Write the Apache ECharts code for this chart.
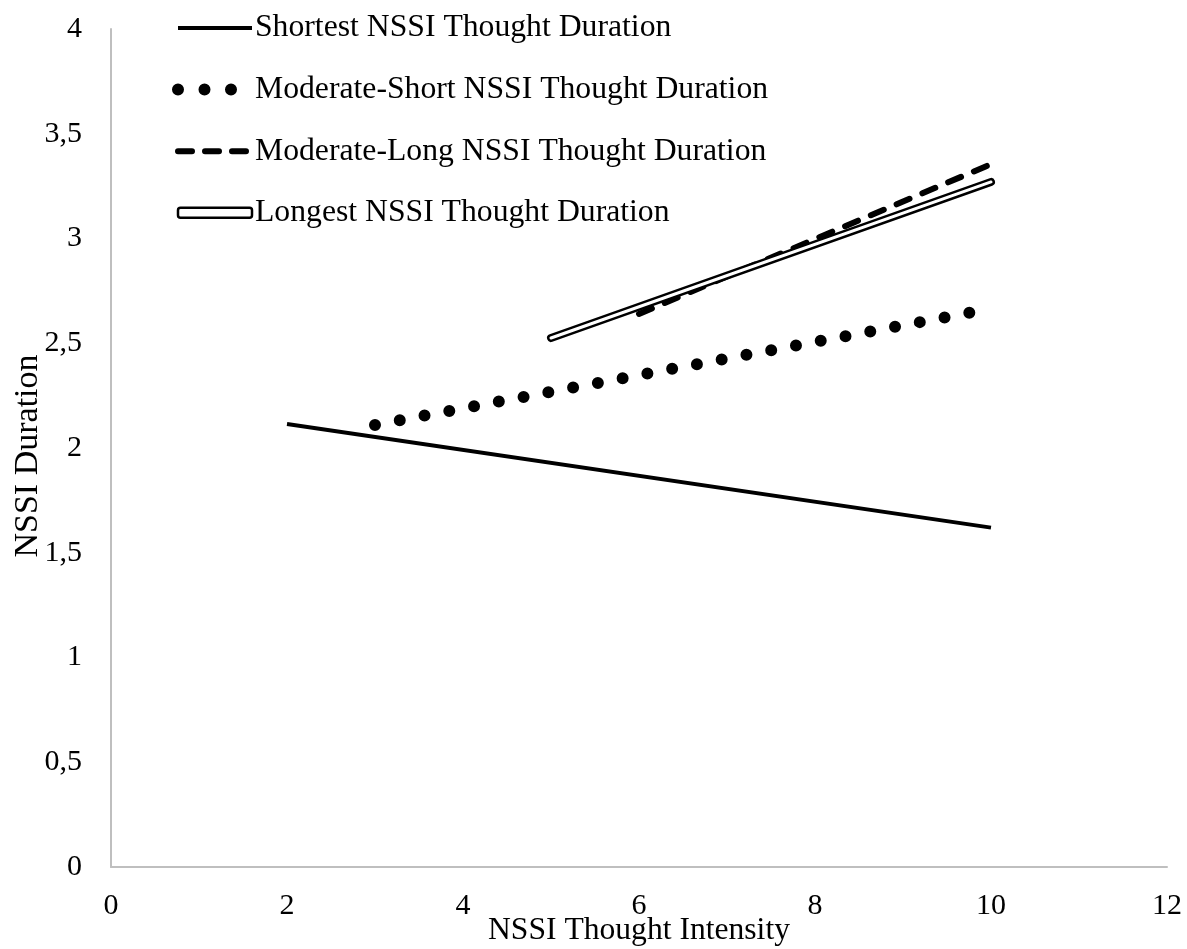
<!DOCTYPE html>
<html><head><meta charset="utf-8">
<script src="https://cdn.jsdelivr.net/npm/echarts@6/dist/echarts.min.js"></script>
<style>html,body{margin:0;padding:0;background:#fff}#c{width:1187px;height:949px}</style>
</head><body><div id="c"></div>
<script>
var seriesNames = ['Shortest NSSI Thought Duration','Moderate-Short NSSI Thought Duration','Moderate-Long NSSI Thought Duration','Longest NSSI Thought Duration'];
var shortest = [[2, 2.115], [10, 1.62]];
var moderateShort = [[3, 2.11], [10, 2.665]];
var moderateLong = [[6, 2.64], [10, 3.355]];
var longest = [[5, 2.525], [10, 3.27]];
var xTicks = [0, 2, 4, 6, 8, 10, 12];
var yTicks = [0, 0.5, 1, 1.5, 2, 2.5, 3, 3.5, 4];
var FONT = 'Liberation Serif';
var chart = echarts.init(document.getElementById('c'));
chart.setOption({
  animation: false,
  grid: {left: 111, right: 20, top: 29, bottom: 82, containLabel: false, outerBoundsMode: 'none'},
  legend: {
    orient: 'vertical', left: 172, top: 12, padding: 0, itemWidth: 74, itemHeight: 10, itemGap: 29.6,
    textStyle: {fontFamily: FONT, fontSize: 31.7, color: '#000', padding: [0,0,0,-2]},
    data: [
      {name: seriesNames[0], itemStyle: {opacity: 0}, lineStyle: {width: 4, type: 'solid', color: '#000'}},
      {name: seriesNames[1], itemStyle: {opacity: 0}, lineStyle: {width: 12, type: [0, 26.5], cap: 'round', color: '#000'}},
      {name: seriesNames[2], itemStyle: {opacity: 0}, lineStyle: {width: 6, type: [14, 13], cap: 'round', color: '#000'}},
      {name: seriesNames[3], icon: 'roundRect', itemStyle: {color: '#fff', borderColor: '#000', borderWidth: 2.5}}
    ]
  },
  xAxis: {
    type: 'value', min: xTicks[0], max: xTicks[xTicks.length-1], interval: 2,
    axisLine: {lineStyle: {color: '#bfbfbf', width: 2}}, axisTick: {show: false}, splitLine: {show: false},
    axisLabel: {fontFamily: FONT, fontSize: 30, color: '#000', margin: 24},
    name: 'NSSI Thought Intensity', nameLocation: 'middle', nameGap: 48, nameMoveOverlap: false,
    nameTextStyle: {fontFamily: FONT, fontSize: 31.6, color: '#000'}
  },
  yAxis: {
    type: 'value', min: yTicks[0], max: yTicks[yTicks.length-1], interval: 0.5,
    axisLine: {show: true, lineStyle: {color: '#bfbfbf', width: 2}}, axisTick: {show: false}, splitLine: {show: false},
    axisLabel: {fontFamily: FONT, fontSize: 30, color: '#000', margin: 29, formatter: function(v){return String(v).replace('.', ',');}},
    name: 'NSSI Duration', nameLocation: 'middle', nameGap: 66, nameMoveOverlap: false,
    nameTextStyle: {fontFamily: FONT, fontSize: 34, color: '#000', padding: [0, 16, 0, 0]}
  },
  series: [
    {name: seriesNames[0], type: 'line', data: shortest, symbol: 'none', lineStyle: {color: '#000', width: 4}, itemStyle: {color: '#000'}},
    {name: seriesNames[1], type: 'line', data: moderateShort, symbol: 'none', lineStyle: {color: '#000', width: 12, type: [0, 25.2], cap: 'round'}, itemStyle: {color: '#000'}},
    {name: seriesNames[2], type: 'line', data: moderateLong, symbol: 'none', lineStyle: {color: '#000', width: 6, type: [14, 14], cap: 'round'}, itemStyle: {color: '#000'}},
    {name: seriesNames[3], type: 'line', data: longest, symbol: 'none', lineStyle: {color: '#000', width: 8, cap: 'round'}, itemStyle: {color: '#fff'}},
    {name: 'longest-inner', type: 'line', data: longest, symbol: 'none', lineStyle: {color: '#fff', width: 3, cap: 'round'}, silent: true}
  ]
});
</script></body></html>
